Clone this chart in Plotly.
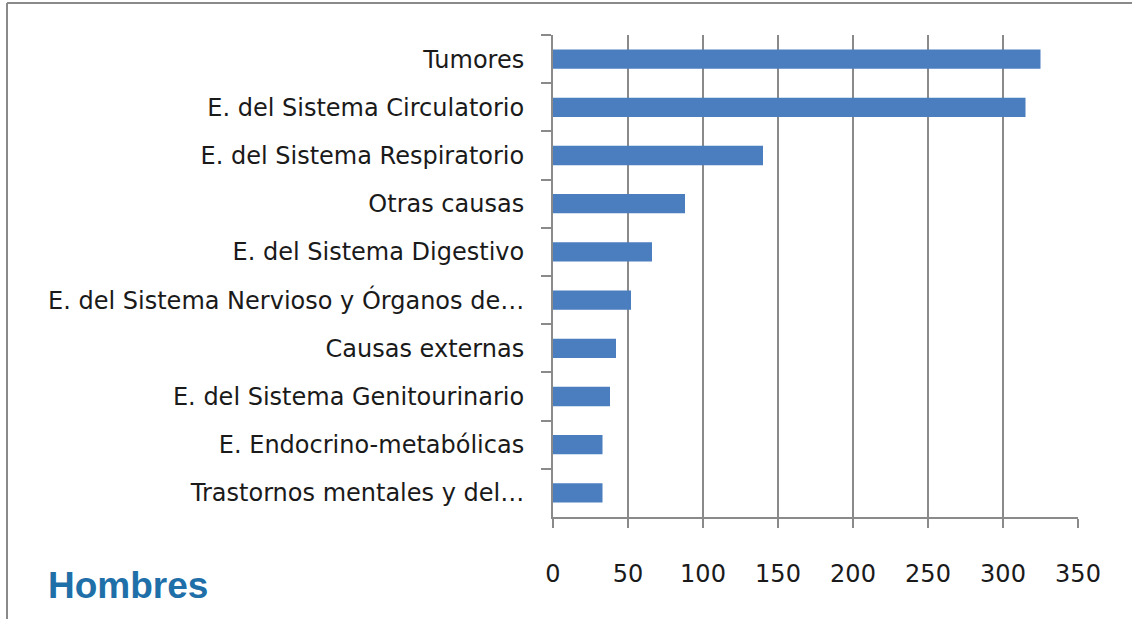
import plotly.graph_objects as go

categories = [
    "Tumores",
    "E. del Sistema Circulatorio",
    "E. del Sistema Respiratorio",
    "Otras causas",
    "E. del Sistema Digestivo",
    "E. del Sistema Nervioso y Órganos de…",
    "Causas externas",
    "E. del Sistema Genitourinario",
    "E. Endocrino-metabólicas",
    "Trastornos mentales y del…",
]
values = [325, 315, 140, 88, 66, 52, 42, 38, 33, 33]
x_ticks = [0, 50, 100, 150, 200, 250, 300, 350]
title_text = "Hombres"

fig = go.Figure()
fig.add_trace(go.Bar(
    y=categories, x=values, orientation="h",
    marker=dict(color="#4A7EBF", line=dict(width=0)),
    width=0.4,
))

W, H = 1132, 619
ml, mr, mt, mb = 553, 54, 35, 102
pw, ph = W - ml - mr, H - mt - mb

def px_x(p):
    return (p - ml) / pw

def px_y(p):
    return 1 - (p - mt) / ph

LABEL_FONT = "'DejaVu Sans', Verdana, sans-serif"
GRID = "#8a8a8a"

fig.update_layout(
    width=W, height=H,
    margin=dict(l=ml, r=mr, t=mt, b=mb, autoexpand=False),
    paper_bgcolor="white", plot_bgcolor="white",
    showlegend=False,
    font=dict(family=LABEL_FONT, color="#1a1a1a"),
    xaxis=dict(
        range=[0, 350], tickvals=x_ticks, ticktext=[str(v) for v in x_ticks],
        showgrid=True, gridcolor=GRID, gridwidth=2,
        showline=True, linecolor=GRID, linewidth=2,
        ticks="outside", ticklen=9, tickcolor=GRID, tickwidth=2,
        ticklabelstandoff=25, zeroline=False,
        tickfont=dict(size=24, color="#1a1a1a"),
        fixedrange=True,
    ),
    yaxis=dict(
        categoryorder="array", categoryarray=categories, autorange="reversed",
        showline=True, linecolor=GRID, linewidth=2,
        ticks="outside", ticklen=10, tickcolor=GRID, tickwidth=2,
        tickson="boundaries", showgrid=False,
        ticklabelstandoff=22,
        tickfont=dict(size=24, color="#1a1a1a"),
        fixedrange=True,
    ),
    shapes=[
        dict(type="line", xref="paper", yref="paper",
             x0=px_x(7), x1=px_x(7), y0=px_y(3), y1=px_y(640),
             line=dict(color=GRID, width=2)),
        dict(type="line", xref="paper", yref="paper",
             x0=px_x(7), x1=px_x(1140), y0=px_y(3), y1=px_y(3),
             line=dict(color=GRID, width=2)),
    ],
    annotations=[
        dict(text=title_text, xref="paper", yref="paper",
             x=px_x(46), y=px_y(585), xanchor="left", yanchor="middle",
             showarrow=False,
             font=dict(family="'Liberation Sans', Arial, sans-serif", size=37,
                       color="#1F6FA8", weight="bold")),
    ],
)

fig.write_html(
    "out.html",
    config={"displayModeBar": False},
    post_script="document.body.style.margin='0';document.body.style.padding='0';document.body.style.overflow='hidden';",
)
